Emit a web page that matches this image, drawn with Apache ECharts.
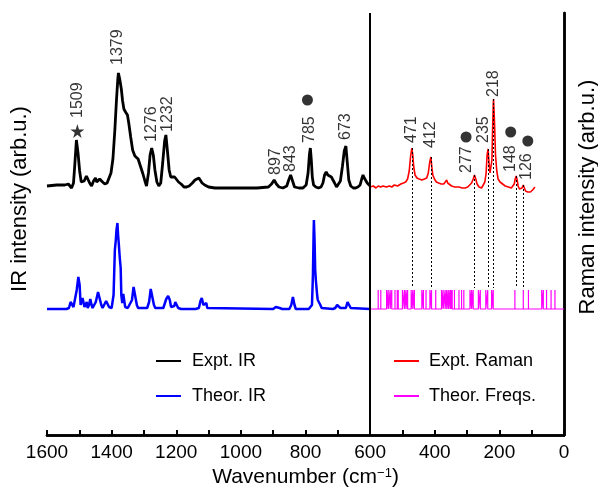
<!DOCTYPE html>
<html><head><meta charset="utf-8">
<script src="https://cdn.jsdelivr.net/npm/echarts@6/dist/echarts.min.js"></script>
<style>html,body{margin:0;padding:0;background:#fff}#c{width:598px;height:493px}</style>
</head><body><div id="c"></div>
<script>
// Expt. IR spectrum [wavenumber, intensity]
const irExpt = [[1600,249],[1570,250],[1545,250],[1534,251],[1524,247],[1518,252],[1514,270],[1509,295],[1504,282],[1499,264],[1494,253],[1490,251],[1485,254],[1478,259],[1473,258],[1468,252],[1462,249],[1456,254],[1450,257],[1446,253],[1442,251],[1437,256],[1434,258],[1428,253],[1421,251],[1414,252],[1408,252],[1402,262],[1396,276],[1390,305],[1385,335],[1381,355],[1379,362],[1375,356],[1370,346],[1366,334],[1362,326],[1357,323],[1351,320],[1347,312],[1341,298],[1335,285],[1328,279],[1318,276],[1310,268],[1303,261],[1297,254],[1292,249],[1286,262],[1281,280],[1276,287],[1271,280],[1266,265],[1260,253],[1254,249],[1248,252],[1242,272],[1236,294],[1232,300],[1227,283],[1222,265],[1217,258],[1212,257],[1205,258],[1200,257],[1193,253],[1185,251],[1176,248],[1168,248],[1160,249],[1150,252],[1142,255],[1137,254],[1130,257],[1125,256],[1120,252],[1112,250],[1100,248],[1080,247],[1050,247],[1000,247],[950,247],[915,248],[905,251],[897,255],[890,251],[882,248],[870,247],[858,249],[852,255],[846,260],[840,254],[834,248],[820,247],[808,247],[798,250],[792,262],[788,280],[785,287],[782,275],[779,258],[775,250],[768,248],[760,247],[752,248],[746,252],[741,260],[736,263],[731,260],[726,259],[720,258],[715,257],[710,252],[704,248],[698,249],[692,254],[686,268],[680,284],[675,289],[670,270],[666,255],[660,249],[652,247],[645,247],[638,248],[631,250],[626,256],[622,260],[618,257],[614,255],[609,252],[604,250],[600,249]];
// Theor. IR spectrum
const irTheor = [[1600,126],[1540,126],[1532,127],[1527,133],[1522,134],[1518,128],[1514,130],[1508,145],[1503,158],[1499,150],[1496,130],[1493,128],[1490,137],[1487,138],[1484,128],[1480,127],[1477,133],[1474,127],[1470,130],[1466,136],[1462,130],[1459,127],[1455,127],[1449,133],[1442,143],[1437,141],[1432,130],[1428,127],[1422,127],[1417,134],[1412,136],[1408,128],[1400,127],[1394,140],[1390,185],[1387,195],[1385,205],[1382,212],[1380,200],[1378,192],[1375,178],[1372,167],[1370,140],[1367,132],[1364,141],[1361,140],[1358,128],[1350,127],[1344,127],[1337,135],[1332,148],[1327,146],[1322,130],[1318,127],[1290,127],[1284,133],[1279,146],[1274,145],[1269,130],[1265,127],[1240,127],[1236,129],[1231,136],[1225,139],[1220,135],[1216,128],[1212,127],[1206,129],[1203,133],[1199,131],[1194,127],[1185,126],[1140,126],[1130,127],[1125,134],[1121,137],[1116,130],[1111,131],[1107,132],[1104,127],[1098,126],[900,126],[892,128],[887,129],[880,127],[872,126],[850,126],[844,130],[839,138],[834,130],[830,126],[790,126],[784,127],[780,130],[777,160],[775,200],[774,215],[772,195],[770,165],[768,155],[766,156],[764,140],[762,135],[758,134],[754,130],[750,127],[745,126],[715,126],[708,127],[702,130],[697,131],[692,127],[686,126],[675,127],[670,133],[665,133],[660,127],[654,126],[600,126]];
// Expt. Raman spectrum
const ramanExpt = [[600,248],[590,249],[582,247],[575,249],[568,248],[560,249],[550,248],[540,249],[533,248],[525,250],[515,249],[505,251],[497,252],[490,253],[484,256],[479,264],[475,278],[471,287],[468,280],[465,268],[461,260],[455,257],[448,256],[440,255],[432,256],[425,257],[420,262],[416,272],[412,278],[409,268],[406,260],[401,256],[395,253],[388,252],[380,251],[372,251],[366,252],[363,255],[360,252],[355,250],[348,249],[338,248],[325,248],[315,247],[306,247],[298,248],[292,249],[286,252],[281,256],[277,260],[273,256],[269,251],[263,248],[255,247],[249,249],[245,253],[241,262],[238,280],[235,286],[232,272],[229,262],[226,263],[223,275],[221,305],[219,330],[218,336],[215,312],[212,280],[208,264],[204,256],[198,253],[190,251],[182,249],[172,248],[163,247],[158,248],[154,251],[151,256],[148,259],[145,255],[142,249],[138,246],[134,245],[130,247],[126,250],[123,248],[119,244],[112,243],[104,243],[97,245],[92,247],[90,248]];
// Theoretical Raman frequencies (sticks)
const theorFreqs = [575,567,549,544,538,533,523,516,513,500,494,489,484,473,468,463,440,435,427,415,410,397,379,374,368,363,358,353,350,346,339,325,317,310,291,286,281,265,259,242,236,224,219,152,126,110,69,64,54,40,28];
const stickBase = 126, stickTop = 145;
// Raman peaks with dashed guides
const ramanPeaks = [471,412,277,235,218,148,126];
const ramanPeakV = [287,278,260,286,336,259,250];
// Peak labels [position, label bottom, text]
const irLabels = [[1504,317,'1509'],[1380,370,'1379'],[1276,293,'1276'],[1228,303,'1232'],[894,260,'897'],[846,263,'843'],[788,292,'785'],[675,295,'673']];
const ramanLabels = [[471,292,'471'],[412,287,'412'],[301,262,'277'],[250,292,'235'],[219,338,'218'],[165,263,'148'],[115,255,'126']];
const starMarks = [[1506,304]];
const dotMarks = [[794,335],[303,298],[165,303],[112,294]];
const xTicks = {min:0, max:1600, interval:200};

const FONT = 'Liberation Sans, Arial, Helvetica, sans-serif';
const stickData = [[600,stickBase]];
theorFreqs.slice().sort((a,b)=>b-a).forEach(f=>{stickData.push([f,stickBase],[f,stickTop],[f,stickBase]);});
stickData.push([0,stickBase]);
const dashLines = ramanPeaks.map((p,i)=>[{coord:[p,ramanPeakV[i]]},{coord:[p,stickTop+2]}]);

const labelCfg = {show:true, rotate:90, position:'inside', align:'left', verticalAlign:'middle', fontSize:16, color:'#000', fontFamily:FONT, formatter:p=>p.value[2]};
const chart = echarts.init(document.getElementById('c'));
chart.setOption({
  animation:false,
  grid:{left:47,right:34,top:13,bottom:58, outerBoundsMode:'none', containLabel:false},
  legend:[
    {data:['Expt. IR','Theor. IR'], orient:'vertical', left:151, top:346, itemWidth:25, itemHeight:2, itemGap:15, icon:'rect',
     textStyle:{fontSize:18, color:'#000', fontFamily:FONT, lineHeight:20, padding:[0,0,0,6]}},
    {data:['Expt. Raman','Theor. Freqs.'], orient:'vertical', left:389, top:346, itemWidth:25, itemHeight:2, itemGap:15, icon:'rect',
     textStyle:{fontSize:18, color:'#000', fontFamily:FONT, lineHeight:20, padding:[0,0,0,5]}}
  ],
  xAxis:[
    {type:'value', min:xTicks.min, max:xTicks.max, interval:xTicks.interval, inverse:true, position:'bottom',
     axisLine:{show:true, lineStyle:{color:'#000', width:2.5}},
     axisTick:{show:true, inside:true, length:5, lineStyle:{color:'#000', width:2}},
     minorTick:{show:true, splitNumber:2, length:5, lineStyle:{color:'#000', width:2}},
     axisLabel:{fontSize:19, color:'#000', fontFamily:FONT, margin:8, formatter:v=>String(v)},
     splitLine:{show:false},
     name:'Wavenumber (cm{sup|−1})', nameLocation:'middle', nameGap:29,
     nameTextStyle:{fontSize:21, color:'#000', fontFamily:FONT, rich:{sup:{fontSize:13, color:'#000', fontFamily:FONT, verticalAlign:'top'}}}},
    {type:'value', min:xTicks.min, max:xTicks.max, inverse:true, position:'top',
     axisLine:{show:true, lineStyle:{color:'#000', width:2.5}}, axisTick:{show:false}, axisLabel:{show:false}, splitLine:{show:false}}
  ],
  yAxis:[
    {type:'value', min:0, max:422, position:'left', axisLine:{show:true, lineStyle:{color:'#000', width:2.5}},
     axisTick:{show:false}, axisLabel:{show:false}, splitLine:{show:false},
     name:'IR intensity (arb.u.)', nameLocation:'middle', nameRotate:90, nameGap:16,
     nameTextStyle:{fontSize:22, color:'#000', fontFamily:FONT, padding:[0,0,0,50]}},
    {type:'value', min:0, max:422, position:'right', axisLine:{show:true, lineStyle:{color:'#000', width:2.5}},
     axisTick:{show:false}, axisLabel:{show:false}, splitLine:{show:false},
     name:'Raman intensity (arb.u.)', nameLocation:'middle', nameRotate:90, nameGap:13,
     nameTextStyle:{fontSize:22, color:'#000', fontFamily:FONT, padding:[0,0,0,54]}}
  ],
  series:[
    {name:'Expt. IR', type:'line', data:irExpt, symbol:'none', color:'#000', lineStyle:{color:'#000', width:2.8}, z:3,
     markLine:{silent:true, symbol:['none','none'], label:{show:false}, lineStyle:{color:'#000', width:2, type:'solid'}, data:[{xAxis:600}]}},
    {name:'Theor. IR', type:'line', data:irTheor, symbol:'none', color:'#0000ff', lineStyle:{color:'#0000ff', width:2.5}, z:3},
    {name:'Expt. Raman', type:'line', data:ramanExpt, symbol:'none', color:'#ff0000', lineStyle:{color:'#ff0000', width:1.6}, z:3,
     markLine:{silent:true, symbol:['none','none'], label:{show:false}, lineStyle:{color:'#000', width:1, type:[2,2]}, data:dashLines}},
    {name:'Theor. Freqs.', type:'line', data:stickData, symbol:'none', color:'#ff00ff', lineStyle:{color:'#ff00ff', width:1.2}, z:2},
    {type:'scatter', data:irLabels.concat(ramanLabels), symbolSize:0, label:labelCfg, z:5, silent:true},
    {type:'scatter', data:starMarks, symbol:'path://M50,0 L61,35 L98,35 L68,57 L79,91 L50,70 L21,91 L32,57 L2,35 L39,35 Z', symbolSize:14, itemStyle:{color:'#000'}, z:5},
    {type:'scatter', data:dotMarks, symbol:'circle', symbolSize:11, itemStyle:{color:'#000'}, z:5}
  ]
});
</script></body></html>
